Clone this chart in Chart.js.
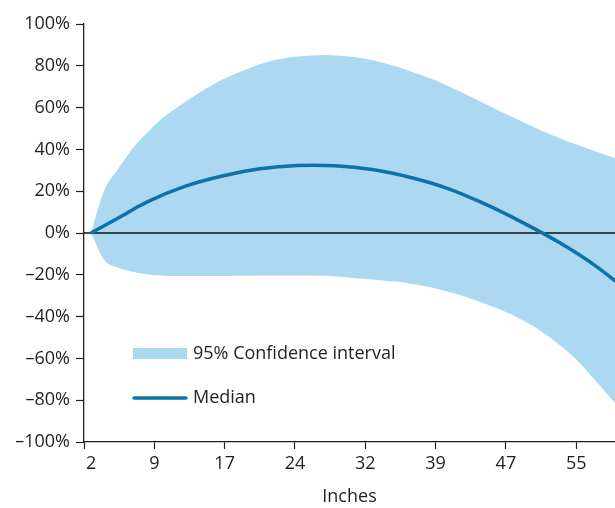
<!DOCTYPE html>
<html>
<head>
<meta charset="utf-8">
<script src="https://cdn.jsdelivr.net/npm/chart.js@4"></script>
<style>
  html, body { margin: 0; padding: 0; background: #ffffff; }
  #wrap { width: 615px; height: 508px; }
</style>
</head>
<body>
<div id="wrap"><canvas id="c" width="615" height="508"></canvas></div>
<script>
// Median change (%) by distance in inches
const medianInches = [2, 5, 8, 12, 16, 20, 24, 28, 32, 36, 40, 44, 48, 52, 56, 60];
const median = [0, 7.4, 14.9, 22.3, 27.3, 30.7, 32.3, 32.2, 30.4, 26.7, 21.4, 13.9, 5.1, -4.7, -16.3, -30.7];
// 95% confidence interval bounds (%) by distance in inches
const bandInches = [2, 3.5, 5, 6.5, 8.5, 10, 12.5, 15.5, 18, 21, 24, 27, 30, 32.5, 35, 38.5, 42, 46.5, 50, 53.5, 58, 61];
const ciUpper = [0, 21.4, 31.3, 40.9, 50.4, 56.3, 64, 72.2, 77.3, 82.1, 84.4, 85.2, 84.2, 82.2, 79.1, 73.4, 66.3, 56.4, 49.1, 42.8, 35.6, 31];
const ciLower = [0, -13.5, -16.8, -18.7, -20.1, -20.4, -20.6, -20.6, -20.4, -20.3, -20.3, -20.5, -21.5, -22.5, -23.5, -26.3, -30.6, -38.3, -47, -59.5, -82, -98.5];
// Tick positions on the inch axis and the labels shown there
const xTickValues = [1.25, 2, 8.75, 16.25, 23.75, 31.25, 38.75, 46.25, 53.75];
const xTickLabels = ['', '2', '9', '17', '24', '32', '39', '47', '55'];
const yTickValues = [-100, -80, -60, -40, -20, 0, 20, 40, 60, 80, 100];

const BAND = '#acd9f1';
const LINE = '#0d72aa';
const INK = '#231f20';
const FONT = "'Open Sans', 'DejaVu Sans', sans-serif";

const pts = (xs, ys) => xs.map((x, i) => ({ x, y: ys[i] }));

// Legend drawn inside the plot, lower-left
const insideLegend = {
  id: 'insideLegend',
  afterDraw(chart) {
    const { ctx, chartArea } = chart;
    const x0 = chartArea.left + 49;
    const sw = 54;
    ctx.save();
    ctx.font = '18px ' + FONT;
    ctx.textBaseline = 'middle';
    ctx.textAlign = 'left';
    const md = chart.data.datasets[0];
    const ci = chart.data.datasets[2];
    // band swatch
    ctx.fillStyle = BAND;
    ctx.fillRect(x0, 348, sw, 11);
    ctx.fillStyle = INK;
    ctx.fillText(ci.label, x0 + sw + 6, 354);
    // median swatch
    ctx.strokeStyle = LINE;
    ctx.lineWidth = 3.5;
    ctx.lineCap = 'round';
    ctx.beginPath();
    ctx.moveTo(x0 + 1, 398);
    ctx.lineTo(x0 + sw - 1, 398);
    ctx.stroke();
    ctx.fillText(md.label, x0 + sw + 6, 398);
    ctx.restore();
  }
};

new Chart(document.getElementById('c'), {
  type: 'line',
  data: {
    datasets: [
      {
        label: 'Median',
        data: pts(medianInches, median),
        borderColor: LINE,
        borderWidth: 3.5,
        pointRadius: 0,
        fill: false,
        tension: 0.4,
        order: 0
      },
      {
        label: 'zero',
        data: [{ x: 1.25, y: 0 }, { x: 70, y: 0 }],
        borderColor: '#111111',
        borderWidth: 1.4,
        pointRadius: 0,
        fill: false,
        order: 1
      },
      {
        label: '95% Confidence interval',
        data: pts(bandInches, ciUpper),
        borderWidth: 0,
        borderColor: BAND,
        backgroundColor: BAND,
        pointRadius: 0,
        fill: '+1',
        tension: 0.3,
        order: 2
      },
      {
        label: 'lower',
        data: pts(bandInches, ciLower),
        borderWidth: 0,
        borderColor: BAND,
        pointRadius: 0,
        fill: false,
        tension: 0.3,
        order: 3
      }
    ]
  },
  options: {
    responsive: false,
    animation: false,
    events: [],
    layout: { padding: { top: 24, right: 0, left: 0, bottom: 0 } },
    plugins: { legend: { display: false }, tooltip: { enabled: false } },
    scales: {
      x: {
        type: 'linear',
        min: 1.25,
        max: 1.25 + 531 / 9.375,
        afterBuildTicks(scale) {
          scale.ticks = xTickValues.map(v => ({ value: v }));
        },
        afterFit(scale) { scale.height = 66; },
        ticks: {
          autoSkip: false,
          maxRotation: 0,
          padding: 4,
          color: INK,
          font: { family: FONT, size: 18 },
          callback: (v, i) => xTickLabels[i]
        },
        grid: {
          drawOnChartArea: false,
          tickLength: 7,
          tickWidth: 1.2,
          tickColor: ctx => (ctx.tick && ctx.tick.value === 2 ? 'rgba(0,0,0,0)' : INK)
        },
        border: { color: INK, width: 1.3 },
        title: {
          display: true,
          text: 'Inches',
          color: INK,
          font: { family: FONT, size: 18 },
          padding: { top: 2, bottom: 0 }
        }
      },
      y: {
        type: 'linear',
        min: -100,
        max: 100,
        afterBuildTicks(scale) {
          scale.ticks = yTickValues.map(v => ({ value: v }));
        },
        afterFit(scale) { scale.width = 84; },
        ticks: {
          padding: 6,
          color: INK,
          font: { family: FONT, size: 18 },
          callback: v => (v < 0 ? '\u2013' + Math.abs(v) : v) + '%'
        },
        grid: {
          drawOnChartArea: false,
          tickLength: 8,
          tickWidth: 1.2,
          tickColor: INK
        },
        border: { color: INK, width: 1.3 }
      }
    }
  },
  plugins: [insideLegend]
});
</script>
</body>
</html>
